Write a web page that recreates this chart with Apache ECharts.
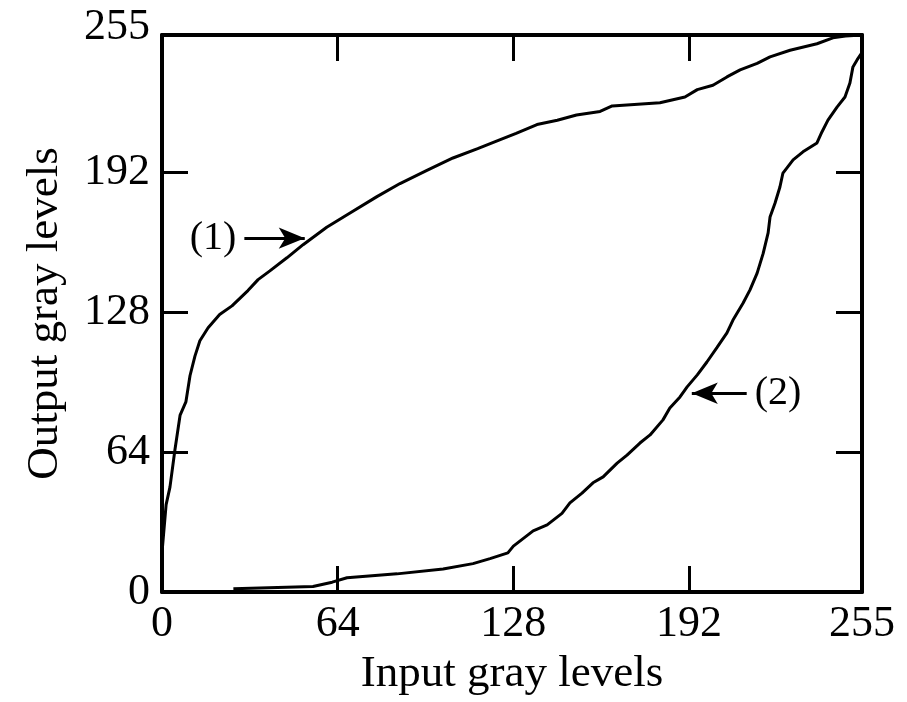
<!DOCTYPE html>
<html>
<head>
<meta charset="utf-8">
<script src="https://cdn.jsdelivr.net/npm/echarts@6/dist/echarts.min.js"></script>
<style>
  html, body { margin: 0; padding: 0; background: #fff; }
  #chart { width: 907px; height: 702px; }
</style>
</head>
<body>
<div id="chart"></div>
<script>
// Gray-level transformation curves: [input, output] pairs
const curve1 = [
  [0, 18], [1.5, 40], [2.9, 48], [4.7, 65], [6.6, 81], [8.7, 87], [10.2, 99],
  [12, 108], [13.8, 115], [16.8, 121], [21, 127], [25.5, 131], [31.3, 138],
  [35, 143], [39.3, 147], [45.5, 153], [51.4, 159], [60, 167], [68.5, 173.5],
  [78.3, 181], [86.7, 187], [96.5, 193], [106, 198.7], [115, 203], [123, 207],
  [129, 210], [136.6, 214], [144, 216], [151, 218.4], [159.6, 220], [164, 222.5],
  [181.4, 224], [190.5, 226.6], [195, 230], [200.7, 232], [205.8, 235.8],
  [210.6, 239], [216.8, 242], [221.5, 245], [228.8, 248], [238.6, 251],
  [244.4, 253.7], [249, 254.5], [255, 255]
];
const curve2 = [
  [26, 1.5], [55, 2.5], [62, 4.5], [67.4, 6.5], [85.6, 8.3], [102.4, 10.5],
  [113.3, 13], [119.5, 15.3], [126, 17.9], [128, 21], [135.2, 28], [140.3, 30.7],
  [145.7, 36], [148.6, 40.8], [153, 45.3], [157, 50], [160.7, 52.7], [165.8, 59],
  [169.4, 62.7], [174.1, 68.2], [177.8, 71.9], [182.5, 78.8], [185, 84.2],
  [188.7, 89.3], [191.3, 93.9], [195, 99.4], [198.5, 105.3], [202.2, 112],
  [205.8, 118.6], [208, 124.5], [211.7, 132.3], [214.2, 138.3], [216.8, 146],
  [219, 155], [220.8, 164.4], [221.5, 171.7], [223.3, 178], [225.1, 185.4],
  [226.2, 191.8], [229.9, 197.8], [233.5, 201.5], [238.6, 205.6], [240.4, 210.6],
  [242.6, 216], [245.9, 222], [248.8, 226.6], [250.6, 233], [251.7, 240.4],
  [253.2, 243.6], [255, 247], [255, 255]
];

// Callout arrows: tail and head in data units, plus the label text
const arrow1 = { label: '(1)', from: [30, 162], to: [52, 162] };
const arrow2 = { label: '(2)', from: [213, 91], to: [193, 91] };

const axisMin = 0;
const axisMax = 255;
const tickStep = 64;

const FONT = "'Liberation Serif', 'Times New Roman', serif";
const INK = '#000';

// Every side of the frame is a value axis with inward ticks
function boxAxis(extra) {
  return Object.assign({
    type: 'value',
    min: axisMin,
    max: axisMax,
    interval: tickStep,
    splitLine: { show: false },
    axisLine: { show: true, onZero: false, lineStyle: { color: INK, width: 4 } },
    axisTick: { show: true, inside: true, length: 26, lineStyle: { color: INK, width: 3 } }
  }, extra);
}

function arrowLine(a) {
  return [
    {
      coord: a.from,
      symbol: 'none',
      label: {
        show: true,
        position: 'start',
        formatter: a.label,
        distance: 8,
        color: INK,
        fontFamily: FONT,
        fontSize: 40
      }
    },
    { coord: a.to, symbol: 'arrow', symbolSize: [16, 26] }
  ];
}

const chart = echarts.init(document.getElementById('chart'), null, { renderer: 'canvas' });

chart.setOption({
  animation: false,
  backgroundColor: '#fff',
  grid: { left: 162, right: 45, top: 35, bottom: 110 },
  xAxis: [
    boxAxis({
      position: 'bottom',
      name: 'Input gray levels',
      nameLocation: 'middle',
      nameGap: 60,
      nameTextStyle: { color: INK, fontFamily: FONT, fontSize: 45 },
      axisLabel: { color: INK, fontFamily: FONT, fontSize: 44, margin: 10 }
    }),
    boxAxis({ position: 'top', axisLabel: { show: false } })
  ],
  yAxis: [
    boxAxis({
      position: 'left',
      name: 'Output gray levels',
      nameLocation: 'middle',
      nameGap: 94,
      nameTextStyle: { color: INK, fontFamily: FONT, fontSize: 45 },
      axisLabel: {
        color: INK, fontFamily: FONT, fontSize: 44, margin: 12,
        formatter: function (v) { return v === axisMax ? '{top|' + v + '}' : String(v); },
        rich: { top: { color: INK, fontFamily: FONT, fontSize: 44, padding: [0, 0, 16, 0] } }
      }
    }),
    boxAxis({ position: 'right', axisLabel: { show: false } })
  ],
  series: [
    {
      type: 'line',
      data: curve1,
      showSymbol: false,
      lineStyle: { color: INK, width: 3 },
      markLine: {
        silent: true,
        animation: false,
        lineStyle: { color: INK, width: 3, type: 'solid' },
        data: [arrowLine(arrow1)]
      }
    },
    {
      type: 'line',
      data: curve2,
      showSymbol: false,
      lineStyle: { color: INK, width: 3 },
      markLine: {
        silent: true,
        animation: false,
        lineStyle: { color: INK, width: 3, type: 'solid' },
        data: [arrowLine(arrow2)]
      }
    }
  ]
});
</script>
</body>
</html>
